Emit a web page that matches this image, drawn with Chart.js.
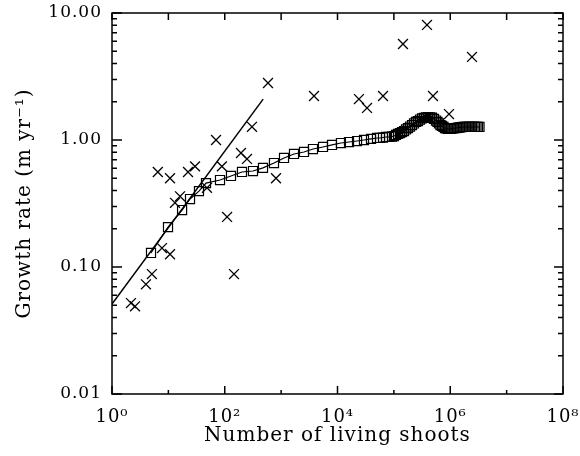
<!DOCTYPE html>
<html>
<head>
<meta charset="utf-8">
<script src="https://cdn.jsdelivr.net/npm/chart.js@4.4.1/dist/chart.umd.min.js"></script>
<style>
  html, body { margin: 0; padding: 0; background: #fff; }
</style>
</head>
<body>
<canvas id="chart" width="580" height="456"></canvas>
<script>
// observed growth rates (crosses)
const obsShoots = [2.17, 2.56, 4.0, 5.1, 7.7, 10.7, 6.5, 10.7, 22.3, 29.7, 13.1, 16.1, 48.4, 70, 89, 110, 146, 194, 248, 304, 585, 811,
  3830, 24000, 33400, 64200, 145000, 387000, 494000, 951000, 2430000];
const obsRate = [0.052, 0.049, 0.073, 0.088, 0.141, 0.126, 0.56, 0.50, 0.56, 0.62, 0.32, 0.36, 0.42, 1.0, 0.62, 0.248, 0.088, 0.79, 0.71, 1.27, 2.81, 0.50,
  2.22, 2.10, 1.79, 2.22, 5.70, 8.05, 2.22, 1.60, 4.51];

// model curve (squares)
const modelShoots = [4.92, 9.85, 17.5, 24.2, 34.9, 46.5, 82.4, 129, 202, 317, 477, 747, 1125, 1692, 2545, 3675, 5530, 7990,
  11500, 16000, 22200, 29500, 39300, 50200, 56750, 64150, 72500, 82000, 92700, 100500, 109000, 118400, 128500, 139300,
  151300, 164000, 178000, 193200, 209700, 227500, 246800, 267800, 290600, 315300, 342200, 371300, 402900, 437200, 474400,
  514700, 558500, 594000, 631000, 671000, 714000, 759000, 807000, 858000, 912000, 970000, 1031000, 1096000, 1166000,
  1240000, 1318000, 1401000, 1490000, 1584000, 1684000, 1790000, 1903000, 2023000, 2151000, 2287000, 2431000, 2585000,
  2748000, 2922000, 3106000, 3302000];
const modelRate = [0.129, 0.206, 0.281, 0.343, 0.396, 0.458, 0.484, 0.521, 0.560, 0.570, 0.603, 0.659, 0.722, 0.776, 0.805, 0.849, 0.881, 0.914,
  0.947, 0.964, 0.982, 1.00, 1.02, 1.037, 1.037, 1.046, 1.056, 1.056, 1.065, 1.075, 1.095, 1.115, 1.135, 1.156,
  1.177, 1.210, 1.243, 1.277, 1.312, 1.349, 1.386, 1.411, 1.450, 1.477, 1.495, 1.505, 1.51, 1.51, 1.50,
  1.465, 1.424, 1.386, 1.349, 1.312, 1.289, 1.266, 1.243, 1.232, 1.221, 1.221, 1.225, 1.232, 1.238,
  1.243, 1.248, 1.254, 1.259, 1.261, 1.266, 1.266, 1.266, 1.266, 1.266, 1.266, 1.266, 1.266,
  1.266, 1.266, 1.266, 1.266];

// power-law fit line
const fitShoots = [1, 480];
const fitRate = [0.051, 2.1];

const xTickValues = [1, 1e2, 1e4, 1e6, 1e8];
const xTickLabels = ['10⁰', '10²', '10⁴', '10⁶', '10⁸'];
const yTickValues = [0.01, 0.1, 1, 10];
const yTickLabels = ['0.01', '0.10', '1.00', '10.00'];

const serif = 'DejaVu Serif';

function pairs(xs, ys) {
  return xs.map((v, i) => ({ x: v, y: ys[i] }));
}

// the original lettering is widely spaced
const spacedText = {
  id: 'spacedText',
  beforeLayout(chart) { chart.ctx.letterSpacing = '1px'; },
  beforeDraw(chart) { chart.ctx.letterSpacing = '1px'; }
};

// box and inward ticks on all four sides, like the original
const frameTicks = {
  id: 'frameTicks',
  afterDraw(chart) {
    const { ctx, chartArea: a, scales: { x, y } } = chart;
    ctx.save();
    ctx.strokeStyle = '#000';
    ctx.lineWidth = 1.5;
    ctx.strokeRect(a.left, a.top, a.right - a.left, a.bottom - a.top);
    ctx.beginPath();
    for (let e = 0; e <= 8; e++) {
      const px = x.getPixelForValue(Math.pow(10, e));
      const len = e % 2 === 0 ? 8 : 4;
      ctx.moveTo(px, a.bottom); ctx.lineTo(px, a.bottom - len);
      ctx.moveTo(px, a.top); ctx.lineTo(px, a.top + 7);
    }
    for (let e = -2; e <= 1; e++) {
      for (let m = 1; m <= 9; m++) {
        const v = m * Math.pow(10, e);
        if (v > 10.0001) break;
        const py = y.getPixelForValue(v);
        const major = m === 1;
        ctx.moveTo(a.left, py); ctx.lineTo(a.left + (major ? 10 : 5), py);
        ctx.moveTo(a.right, py); ctx.lineTo(a.right - (major ? 9 : 5), py);
      }
    }
    ctx.stroke();
    ctx.restore();
  }
};

const ctx = document.getElementById('chart').getContext('2d');
new Chart(ctx, {
  type: 'scatter',
  data: {
    datasets: [
      {
        data: pairs(obsShoots, obsRate),
        pointStyle: 'crossRot',
        pointRadius: 7,
        borderColor: '#000',
        borderWidth: 1.3,
        showLine: false
      },
      {
        data: pairs(modelShoots, modelRate),
        pointStyle: 'rect',
        pointRadius: 6.4,
        borderColor: '#000',
        backgroundColor: 'rgba(0,0,0,0)',
        borderWidth: 1.2,
        pointBorderWidth: 1.2,
        showLine: true
      },
      {
        data: pairs(fitShoots, fitRate),
        pointRadius: 0,
        borderColor: '#000',
        borderWidth: 1.5,
        showLine: true
      }
    ]
  },
  options: {
    responsive: false,
    animation: false,
    devicePixelRatio: 1,
    layout: { padding: { top: 13, right: 17, left: 0, bottom: 0 } },
    plugins: { legend: { display: false }, tooltip: { enabled: false } },
    scales: {
      x: {
        type: 'logarithmic',
        min: 1,
        max: 1e8,
        afterBuildTicks: s => { s.ticks = xTickValues.map(v => ({ value: v })); },
        afterFit: s => { s.height = 62; s.paddingLeft = 0; s.paddingRight = 0; },
        grid: { display: false, drawTicks: false },
        border: { display: false },
        ticks: {
          callback: (v, i) => xTickLabels[i],
          font: { family: serif, size: 18 },
          color: '#000',
          padding: 13,
          maxRotation: 0,
          autoSkip: false
        },
        title: {
          display: true,
          text: 'Number of living shoots',
          font: { family: serif, size: 20 },
          color: '#000',
          padding: { top: 0, bottom: 8 }
        }
      },
      y: {
        type: 'logarithmic',
        min: 0.01,
        max: 10,
        afterBuildTicks: s => { s.ticks = yTickValues.map(v => ({ value: v })); },
        afterFit: s => { s.width = 112; s.paddingTop = 0; s.paddingBottom = 0; },
        grid: { display: false, drawTicks: false },
        border: { display: false },
        ticks: {
          callback: (v, i) => yTickLabels[i],
          font: { family: serif, size: 17 },
          color: '#000',
          padding: 10,
          autoSkip: false
        },
        title: {
          display: true,
          text: 'Growth rate (m yr⁻¹)',
          font: { family: serif, size: 20 },
          color: '#000',
          padding: { top: 13, bottom: 0 }
        }
      }
    }
  },
  plugins: [spacedText, frameTicks]
});
</script>
</body>
</html>
